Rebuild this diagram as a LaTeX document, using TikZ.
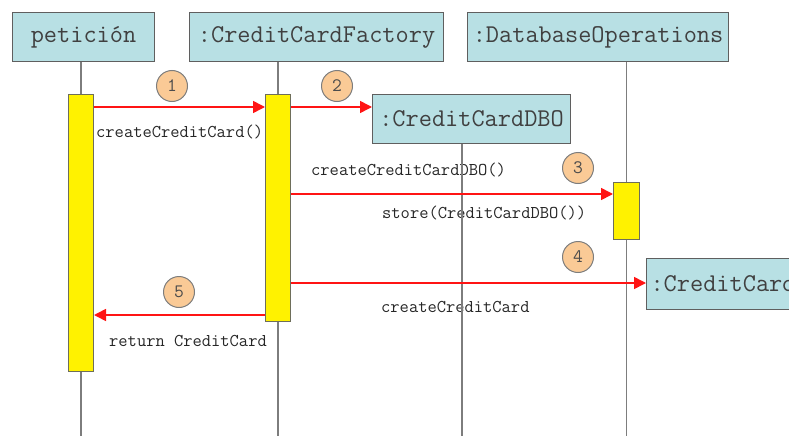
\documentclass[tikz,border=0pt]{standalone}
\usepackage{fontspec}
\usetikzlibrary{arrows.meta}
\definecolor{boxfill}{RGB}{184,224,228}
\definecolor{boxline}{RGB}{95,95,95}
\definecolor{lifegray}{RGB}{125,125,125}
\definecolor{barline}{RGB}{110,110,90}
\definecolor{peach}{RGB}{250,202,150}
\definecolor{msgred}{RGB}{255,20,20}
\tikzset{
  obj/.style={draw=boxline, fill=boxfill, line width=1.1pt, inner sep=0pt, anchor=north west,
    font=\ttfamily\fontsize{25.6}{27}\selectfont, text=black!75},
  actbar/.style={draw=barline, fill=yellow, line width=1pt, inner sep=0pt, anchor=north west, minimum width=25},
  life/.style={draw=lifegray, line width=1.4pt},
  msg/.style={draw=msgred, line width=1.6pt, -{Triangle[length=12pt,width=12pt]}},
  num/.style={circle, draw=lifegray, fill=peach, line width=1pt, minimum size=31, inner sep=0pt,
    font=\ttfamily\fontsize{19}{21}\selectfont, text=black!70},
  lbl/.style={anchor=west, inner sep=0pt, font=\ttfamily\fontsize{18}{20}\selectfont, text=black!85}
}
\begin{document}
\begin{tikzpicture}[x=1pt,y=-1pt]
\useasboundingbox (0,0) rectangle (789,436);
\clip (0,0) rectangle (789,436);
\coordinate (bottom) at (0,436);
\coordinate (dboX) at (462,436);
\coordinate (y1) at (0,107);
\coordinate (y3) at (0,194);
\coordinate (y4) at (0,283);
\coordinate (y5) at (0,315);

% labels (under lifelines)
\node[lbl] (l1) at (96,132) {createCreditCard()};
\node[lbl] (l2) at (311,170) {createCreditCardDBO()};
\node[lbl] (l3) at (382,213) {store(CreditCardDBO())};
\node[lbl] (l4) at (381,307) {createCreditCard};
\node[lbl] (l5) at (109,341) {return CreditCard};

% objects
\node[obj, minimum width=142, minimum height=49] (pet) at (12,12) {petición};
\node[obj, minimum width=254, minimum height=49] (fac) at (189,12) {:CreditCardFactory};
\node[obj, minimum width=261, minimum height=49] (dbop) at (467,12) {:DatabaseOperations};
\node[obj, minimum width=198, minimum height=49] (dbo) at (372,94) {:CreditCardDBO};
\node[obj, minimum width=170, minimum height=51, text width=166, align=left] (cc) at (646,258) {\hspace*{2pt}:CreditCard};

% activation bars
\node[actbar, minimum height=277] (barP) at (68,94) {};
\node[actbar, minimum height=227] (barF) at (265,94) {};
\node[actbar, minimum width=26, minimum height=57] (barD) at (613,182) {};

% lifelines
\draw[life] (barP.center |- pet.south) -- (barP.north);
\draw[life] (barP.south) -- (barP.center |- bottom);
\draw[life] (barF.center |- fac.south) -- (barF.north);
\draw[life] (barF.south) -- (barF.center |- bottom);
\draw[life] (barD.center |- dbop.south) -- (barD.north);
\draw[life] (barD.south) -- (barD.center |- bottom);
\draw[life] (dboX |- dbo.south) -- (dboX);

% messages
\draw[msg] (barP.east |- y1) -- (barF.west |- y1);
\draw[msg] (barF.east |- y1) -- (dbo.west |- y1);
\draw[msg] (barF.east |- y3) -- (barD.west |- y3);
\draw[msg] (barF.east |- y4) -- (cc.west |- y4);
\draw[msg] (barF.west |- y5) -- (barP.east |- y5);

% numbers
\node[num] (n1) at (172,86) {1};
\node[num] (n2) at (337,86) {2};
\node[num] (n3) at (578,168) {3};
\node[num] (n4) at (578,257) {4};
\node[num] (n5) at (179,292) {5};
\end{tikzpicture}
\end{document}
